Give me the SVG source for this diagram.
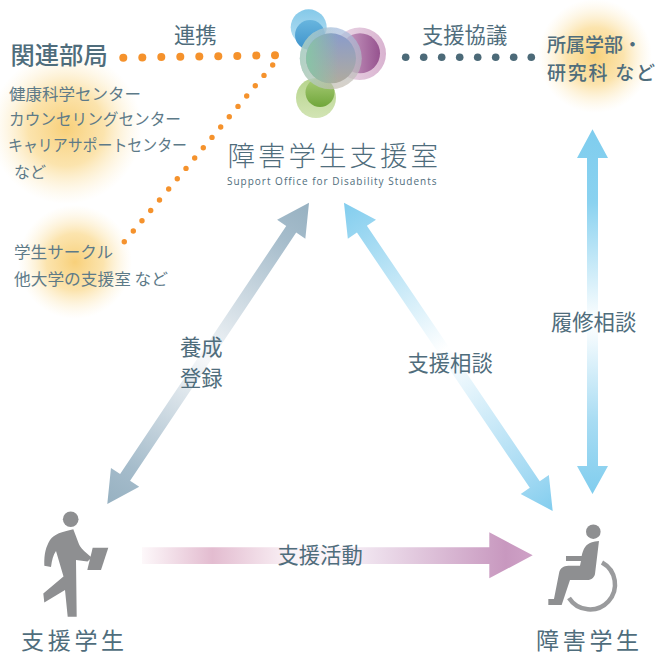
<svg xmlns="http://www.w3.org/2000/svg" width="657" height="652" viewBox="0 0 657 652">
<style>
text{font-family:"Noto Sans CJK JP","Noto Sans",sans-serif;fill:#4f6d7c}
.m{font-size:21.300px}
.s{font-size:16px;fill:#5d7a88}
.h{font-size:23px;letter-spacing:3.700px}
.f{font-size:19px;font-weight:500}
.d{fill:#f5922c}
.k{fill:#4c6a78}
.p{fill:#8e8f91}
</style>
<defs>
<radialGradient id="glow"><stop offset="0" stop-color="#f8d07a"/><stop offset=".5" stop-color="#fbdf9f" stop-opacity=".85"/><stop offset="1" stop-color="#fdf0d0" stop-opacity="0"/></radialGradient>
<linearGradient id="ga"><stop offset="0" stop-color="#97b1c1"/><stop offset=".12" stop-color="#a5bccb"/><stop offset=".48" stop-color="#f5f7f9"/><stop offset=".88" stop-color="#a5bccb"/><stop offset="1" stop-color="#97b1c1"/></linearGradient>
<linearGradient id="gb"><stop offset="0" stop-color="#82cdee"/><stop offset=".12" stop-color="#a5daf3"/><stop offset=".52" stop-color="#fff"/><stop offset=".88" stop-color="#a0d9f2"/><stop offset="1" stop-color="#82cdee"/></linearGradient>
<linearGradient id="gc" x1="0" x2="0" y1="0" y2="1"><stop offset="0" stop-color="#7fcdee"/><stop offset=".2" stop-color="#8ad2f0"/><stop offset=".53" stop-color="#fff"/><stop offset=".8" stop-color="#a8dcf3"/><stop offset="1" stop-color="#80cdee"/></linearGradient>
<linearGradient id="gd" gradientUnits="userSpaceOnUse" x1="142" x2="533" y1="0" y2="0"><stop offset="0" stop-color="#fdf8fa"/><stop offset=".18" stop-color="#e3bcd0"/><stop offset=".38" stop-color="#faf2f6"/><stop offset=".5" stop-color="#fbf5f9"/><stop offset=".58" stop-color="#efe2ee"/><stop offset=".93" stop-color="#c898bf"/><stop offset="1" stop-color="#cfa2c7"/></linearGradient>
<linearGradient id="c1" x1="0" y1="0" x2="0" y2="1"><stop offset="0" stop-color="#85c9e9"/><stop offset="1" stop-color="#b9e0f2"/></linearGradient>
<linearGradient id="c2" x1="0" y1="0" x2="0" y2="1"><stop offset="0" stop-color="#68b5de"/><stop offset="1" stop-color="#3e93cb"/></linearGradient>
<linearGradient id="c3"><stop offset="0" stop-color="#ecdbe8"/><stop offset="1" stop-color="#d9b3d0"/></linearGradient>
<linearGradient id="c4"><stop offset="0" stop-color="#cfa6c9"/><stop offset="1" stop-color="#96538f"/></linearGradient>
<linearGradient id="c5" x1="0" y1="0" x2="0" y2="1"><stop offset="0" stop-color="#a4bbde"/><stop offset="1" stop-color="#c6beb0"/></linearGradient>
<linearGradient id="c5b"><stop offset="0" stop-color="#a6d2bc"/><stop offset=".6" stop-color="#a6d2bc" stop-opacity="0"/></linearGradient>
<linearGradient id="c6" x1="0" y1="0" x2="0" y2="1"><stop offset="0" stop-color="#8a9ccb"/><stop offset="1" stop-color="#b0ab9e"/></linearGradient>
<linearGradient id="c6b"><stop offset="0" stop-color="#88c4a6"/><stop offset=".65" stop-color="#88c4a6" stop-opacity="0"/></linearGradient>
<linearGradient id="c7" x1="0" y1="0" x2="0" y2="1"><stop offset="0" stop-color="#b6d48c"/><stop offset="1" stop-color="#d2e4b4"/></linearGradient>
<linearGradient id="c8" x1="0" y1="0" x2="0" y2="1"><stop offset="0" stop-color="#a9cc78"/><stop offset="1" stop-color="#70a63a"/></linearGradient>
</defs>

<g id="glows">
<circle cx="66" cy="128" r="76" fill="url(#glow)"/>
<circle cx="75" cy="262" r="57" fill="url(#glow)"/>
<circle cx="595" cy="56" r="57" fill="url(#glow)"/>
</g>

<g id="connectors">
<g id="arrow-left" transform="translate(107.300,504) rotate(-56.200)"><polygon points="0,0 32,-17 32,-6 330.600,-6 330.600,-17 362.600,0 330.600,17 330.600,6 32,6 32,17" fill="url(#ga)"/></g>
<g id="arrow-right" transform="translate(552.700,511) rotate(-124.100)"><polygon points="0,0 32,-17 32,-6 340.300,-6 340.300,-17 372.300,0 340.300,17 340.300,6 32,6 32,17" fill="url(#gb)"/></g>
<polygon id="arrow-vertical" points="592.500,129.300 608,158 598,158 598,466 608,466 592.500,494 577,466 587,466 587,158 577,158" fill="url(#gc)"/>
<polygon id="arrow-horizontal" points="142,547.300 489.300,547.300 489.300,532.300 532.700,555.300 489.300,578.300 489.300,564 142,564" fill="url(#gd)"/>
<g id="dots-orange" class="d">
<circle cx="123.300" cy="57.700" r="4"/><circle cx="142.300" cy="57.400" r="4"/><circle cx="161.300" cy="57.100" r="4"/><circle cx="180.300" cy="56.800" r="4"/><circle cx="199.300" cy="56.500" r="4"/><circle cx="218.300" cy="56.200" r="4"/><circle cx="237.300" cy="55.900" r="4"/><circle cx="256.300" cy="55.600" r="4"/><circle cx="275" cy="55.300" r="4"/>
<circle cx="272.700" cy="65" r="2.700"/><circle cx="264" cy="75.400" r="2.700"/><circle cx="255.300" cy="85.700" r="2.700"/><circle cx="246.700" cy="96" r="2.700"/><circle cx="238" cy="106.400" r="2.700"/><circle cx="229.300" cy="116.700" r="2.700"/><circle cx="220.700" cy="127" r="2.700"/><circle cx="212" cy="137.400" r="2.700"/><circle cx="203.300" cy="147.700" r="2.700"/><circle cx="194.700" cy="158" r="2.700"/><circle cx="186" cy="168.400" r="2.700"/><circle cx="177.300" cy="178.700" r="2.700"/><circle cx="168.700" cy="189" r="2.700"/><circle cx="159.500" cy="200" r="2.700"/><circle cx="150.700" cy="210.500" r="2.700"/><circle cx="142" cy="220.700" r="2.700"/><circle cx="133.300" cy="231" r="2.700"/><circle cx="124.300" cy="241.700" r="2.700"/>
</g>
<g id="dots-dark" class="k">
<circle cx="405.700" cy="57.300" r="3.800"/><circle cx="423.700" cy="57.300" r="3.800"/><circle cx="441.700" cy="57.300" r="3.800"/><circle cx="459.700" cy="57.300" r="3.800"/><circle cx="477.700" cy="57.300" r="3.800"/><circle cx="495.700" cy="57.300" r="3.800"/><circle cx="513.700" cy="57.300" r="3.800"/><circle cx="531.300" cy="57.300" r="3.800"/>
</g>
</g>

<g id="logo">
<circle cx="359.700" cy="53.700" r="26.300" fill="url(#c3)"/>
<circle cx="360" cy="53.300" r="20" fill="url(#c4)"/>
<circle cx="308.700" cy="27.300" r="18" fill="url(#c1)"/>
<circle cx="310" cy="35" r="15" fill="url(#c2)"/>
<circle cx="316" cy="98" r="20" fill="url(#c7)"/>
<circle cx="320" cy="92.500" r="14.500" fill="url(#c8)"/>
<circle cx="330.800" cy="58.300" r="31" fill="url(#c5)" fill-opacity=".7"/>
<circle cx="330.800" cy="58.300" r="31" fill="url(#c5b)" fill-opacity=".7"/>
<circle cx="331" cy="58.300" r="25" fill="url(#c6)"/>
<circle cx="331" cy="58.300" r="25" fill="url(#c6b)"/>
</g>

<g id="office">
<text x="227.500" y="166" font-size="27.500" letter-spacing="3" style="font-weight:300">障害学生支援室</text>
<text x="227" y="185" font-size="10" letter-spacing="1" style="font-family:'Open Sans',sans-serif">Support Office for Disability Students</text>
</g>

<g id="related">
<text x="10.500" y="63.500" font-size="24.300" font-weight="500">関連部局</text>
<text class="s" x="9" y="100" textLength="132" lengthAdjust="spacingAndGlyphs">健康科学センター</text>
<text class="s" x="9" y="125" textLength="172" lengthAdjust="spacingAndGlyphs">カウンセリングセンター</text>
<text class="s" x="8" y="151" textLength="179" lengthAdjust="spacingAndGlyphs">キャリアサポートセンター</text>
<text class="s" x="14" y="177.500">など</text>
</g>
<g id="circle-group">
<text class="s" x="14" y="258" textLength="99" lengthAdjust="spacingAndGlyphs">学生サークル</text>
<text class="s" x="14" y="285" textLength="154" lengthAdjust="spacingAndGlyphs">他大学の支援室 など</text>
</g>
<g id="faculty">
<text class="f" x="547" y="52">所属学部・</text>
<text class="f" x="547" y="80" textLength="108">研究科 など</text>
</g>

<g id="labels">
<text class="m" x="174" y="42.500">連携</text>
<text class="m" x="422" y="42.500">支援協議</text>
<text class="m" x="551" y="330">履修相談</text>
<text class="m" x="407.500" y="370.500">支援相談</text>
<text class="m" x="180" y="355">養成</text>
<text class="m" x="180" y="386">登録</text>
<text class="m" x="277.500" y="563">支援活動</text>
</g>

<g id="student">
<circle class="p" cx="70.700" cy="519.300" r="7.800"/>
<path class="p" d="M73.300 529.300C62 532 54 534 50 540C46 547 44 553 44.300 565.700L51 567C52 560 53 555 56 551L63.500 576.500L43.300 593.500L44.300 602.500L65 590L67.700 616.700L76.700 616.700L76 560L87.500 561.500L91.700 557.500C85 552 80 548 78.500 543Z"/>
<path class="p" d="M92.700 547.700H108.300L101 570H87.300Z"/>
<text class="h" x="21" y="649">支援学生</text>
</g>
<g id="disabled">
<circle class="p" cx="593.300" cy="531.700" r="7.300"/>
<path class="p" transform="translate(500,500) scale(.3333)" d="M297 123C280 124 265 128 256 140C250 148 247 158 245 168H198V183H243L240 197H205C190 198 182 204 178 215L162 297H145V315H185L210 240H262C275 240 283 232 285 222Z"/>
<path d="M602 562.500A25 25 0 1 1 569 598" fill="none" stroke="#9a9b9d" stroke-width="4.500"/>
<text class="h" x="536" y="649">障害学生</text>
</g>
</svg>
